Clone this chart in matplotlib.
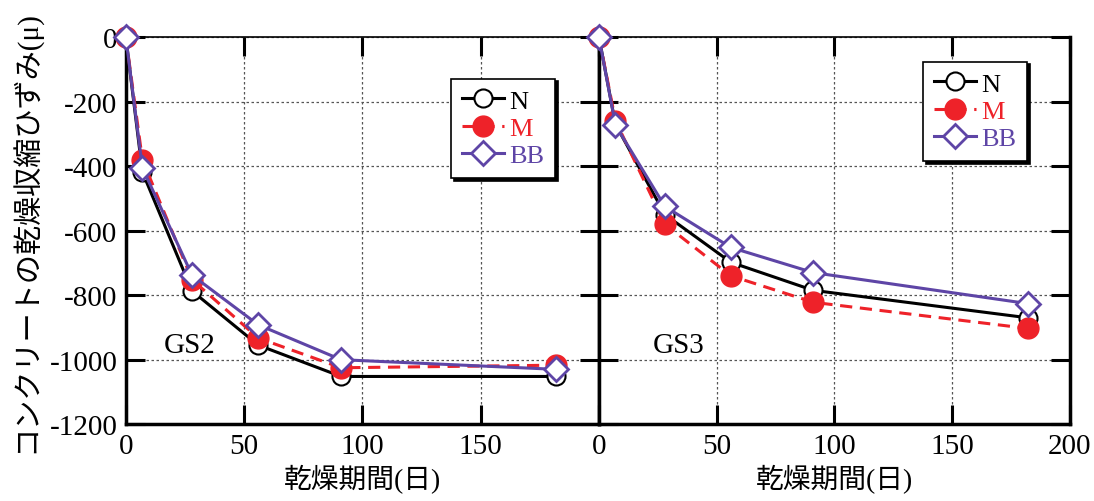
import matplotlib.pyplot as plt
import numpy as np

# 乾燥期間(日)
days = [0, 7, 28, 56, 91, 182]

# GS2
gs2_N = [0, -418, -787, -955, -1052, -1052]
gs2_M = [0, -380, -752, -933, -1025, -1017]
gs2_BB = [0, -405, -738, -892, -1000, -1030]

# GS3
gs3_N = [0, -270, -550, -698, -785, -870]
gs3_M = [0, -259, -580, -740, -822, -903]
gs3_BB = [0, -273, -525, -652, -730, -826]

series_names = ["N", "M", "BB"]
panel_names = ["GS2", "GS3"]

plt.rcParams["font.family"] = ["Liberation Serif", "Noto Sans CJK JP"]
plt.rcParams["axes.unicode_minus"] = False

red = "#ee2229"
purple = "#5e45a6"

styles = {
    "N": dict(color="black", ls="-", marker="o", mfc="white", mec="black", ms=13, mew=1.5),
    "M": dict(color=red, ls=(0, (4, 2.5)), marker="o", mfc=red, mec=red, ms=15, mew=1.0),
    "BB": dict(color=purple, ls="-", marker="D", mfc="white", mec=purple, ms=12, mew=2.0),
}
text_colors = {"N": "black", "M": red, "BB": purple}

fig = plt.figure(figsize=(10.94, 5.02), dpi=100)
ax1 = fig.add_axes([0.115, 0.153, 0.4325, 0.771])
ax2 = fig.add_axes([0.5475, 0.153, 0.4305, 0.771])

data = [(gs2_N, gs2_M, gs2_BB), (gs3_N, gs3_M, gs3_BB)]
text_pos = [(16, -996), (23, -996)]
legend_pos = [(0.907, 0.893), (0.909, 0.937)]

for i, ax in enumerate([ax1, ax2]):
    for name, vals in zip(series_names, data[i]):
        ax.plot(days, vals, lw=2.2, label=name, clip_on=False, zorder=3, **styles[name])

    ax.set_xlim(0, 200)
    ax.set_ylim(-1200, 0)
    ax.set_xticks(np.arange(0, 201, 50))
    ax.set_yticks(np.arange(-1200, 1, 200))
    ax.grid(True, ls=(0, (2, 2)), lw=0.9, color="#555555")
    ax.set_axisbelow(True)
    ax.tick_params(direction="in", length=14, width=2.2, top=True, right=True,
                   labelsize=21, pad=6)
    for side in ["left", "right", "bottom"]:
        ax.spines[side].set_linewidth(2.5)
    ax.spines["top"].set_linewidth(1.2)

    ax.text(text_pos[i][0], text_pos[i][1], panel_names[i], fontsize=21,
            va="bottom", ha="left")
    ax.set_xlabel("乾燥期間(日)", fontsize=20, labelpad=4)

    leg = ax.legend(loc="upper right", bbox_to_anchor=legend_pos[i],
                    prop={"size": 19}, frameon=True,
                    fancybox=False, shadow={"color": "black", "alpha": 1.0},
                    edgecolor="black", framealpha=1, handlelength=1.6,
                    handletextpad=0.2, borderpad=0.4, labelspacing=0.15,
                    borderaxespad=0)
    leg.get_frame().set_linewidth(1.2)
    for t in leg.get_texts():
        t.set_color(text_colors[t.get_text()])

ax1.set_xticklabels(["0", "50", "100", "150", ""])
ax2.set_yticklabels([])
ax1.set_ylabel("コンクリートの乾燥収縮ひずみ(μ)", fontsize=21, labelpad=6)

fig.savefig("out.png", dpi=100)
